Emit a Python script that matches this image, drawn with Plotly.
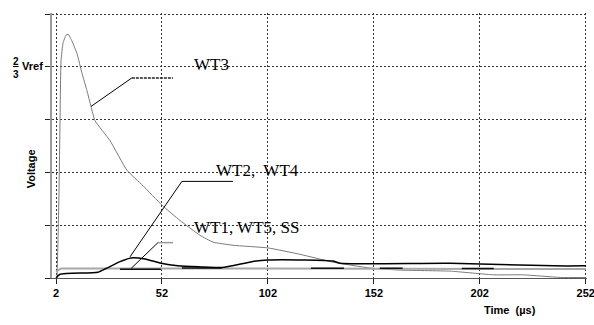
import plotly.graph_objects as go

# ---- waveform data (time in µs, voltage in grid units; 4 units = 2/3 Vref) ----
wt3_t = [2.47, 2.94, 3.42, 3.89, 4.36, 5.3, 6.7, 7.7, 9.5, 11.9, 14.3, 16.6, 18.5, 20.4,
         27.5, 35.5, 43.0, 52.0, 60.5, 69.9, 76.1, 85.5, 102, 117, 132.7, 150, 164, 188,
         208.6, 222.8, 240, 252]
wt3_v = [0.0, 0.72, 1.66, 2.98, 4.11, 4.45, 4.60, 4.62, 4.49, 4.25, 3.87, 3.55, 3.25, 2.98,
         2.60, 2.04, 1.75, 1.38, 1.09, 0.81, 0.68, 0.62, 0.57, 0.45, 0.30, 0.19, 0.15, 0.13,
         0.06, 0.06, 0.01, 0.01]

wt24_t = [2, 3.9, 21.8, 25.6, 32.2, 37.4, 44.0, 51.5, 59.5, 70, 80.3, 94.5, 102, 119.5,
          132.7, 136, 188, 237, 252]
wt24_v = [0.0, 0.07, 0.11, 0.18, 0.31, 0.38, 0.36, 0.28, 0.23, 0.21, 0.20, 0.31, 0.34, 0.34,
          0.32, 0.28, 0.28, 0.23, 0.23]

wt15_t = [2, 4.4, 100, 200, 252]
wt15_v = [0.12, 0.18, 0.18, 0.175, 0.17]

ss_t = [32.2, 51.5, None, 61.4, 80.3, None, 122.3, 137.9, None, 154.8, 165.6, None, 193.5, 208.6]
ss_v = [0.165, 0.165, None, 0.19, 0.19, None, 0.185, 0.185, None, 0.185, 0.185, None, 0.18, 0.18]

x_ticks = [2, 52, 102, 152, 202, 252]
y_ticks = [0, 1, 2, 3, 4, 5]

SANS = "Liberation Sans, Arial, sans-serif"
SERIF = "Liberation Serif, Times New Roman, serif"

fig = go.Figure()
fig.add_trace(go.Scatter(x=wt3_t, y=wt3_v, mode="lines",
                         line=dict(color="#7a7a7a", width=1, shape="spline", smoothing=0.4)))
fig.add_trace(go.Scatter(x=wt15_t, y=wt15_v, mode="lines",
                         line=dict(color="#a8a8a8", width=2)))
fig.add_trace(go.Scatter(x=ss_t, y=ss_v, mode="lines", connectgaps=False,
                         line=dict(color="#111111", width=1.5)))
fig.add_trace(go.Scatter(x=wt24_t, y=wt24_v, mode="lines",
                         line=dict(color="#000000", width=1.5, shape="spline", smoothing=0.6)))

# leader lines from curve labels
def leader(pts, color, width=1):
    path = "M " + " L ".join(f"{x},{y}" for x, y in pts)
    return dict(type="path", path=path, xref="x", yref="y",
                line=dict(color=color, width=width))

shapes = [
    leader([(18.5, 3.25), (37.8, 3.79)], "#000000"),
    dict(type="line", xref="x", yref="y", x0=37.8, y0=3.79, x1=57.2, y1=3.79,
         line=dict(color="#222222", width=1.5, dash="3px,1px")),
    leader([(36.9, 0.40), (61.4, 1.83), (85.5, 1.83)], "#000000"),
    leader([(37.4, 0.18), (50.1, 0.67)], "#000000"),
    dict(type="line", xref="x", yref="y", x0=50.1, y0=0.67, x1=57.2, y1=0.67,
         line=dict(color="#999999", width=1.5)),
]

annotations = [
    dict(x=66.0, y=4.04, text="WT3", xanchor="left", yanchor="middle", showarrow=False,
         font=dict(family=SERIF, size=17, color="#000")),
    dict(x=76.5, y=2.04, text="WT2,  WT4", xanchor="left", yanchor="middle", showarrow=False,
         font=dict(family=SERIF, size=17, color="#000")),
    dict(x=66.0, y=0.96, text="WT1, WT5, SS", xanchor="left", yanchor="middle", showarrow=False,
         font=dict(family=SERIF, size=17, color="#000")),
    # 2/3 Vref tick label
    dict(xref="paper", yref="y", x=0, y=4, xshift=-41, yshift=-1, text="<u>2</u><br>3",
         showarrow=False, font=dict(family=SANS, size=10, color="#000", weight="bold")),
    dict(xref="paper", yref="y", x=0, y=4, xshift=-32, yshift=1, xanchor="left", text="Vref",
         showarrow=False, font=dict(family=SANS, size=11, color="#000", weight="bold")),
    # axis titles
    dict(xref="paper", yref="paper", x=0, y=0.41, xshift=-29, text="Voltage", textangle=-90,
         showarrow=False, font=dict(family=SANS, size=11, color="#000", weight="bold")),
    dict(xref="paper", yref="paper", x=0.909, y=0, yshift=-40, text="Time  (µs)",
         showarrow=False, font=dict(family=SANS, size=11, color="#000", weight="bold")),
]

fig.update_layout(
    width=594, height=325,
    margin=dict(l=52, r=7, t=13, b=47),
    paper_bgcolor="white", plot_bgcolor="white",
    showlegend=False,
    shapes=shapes,
    annotations=annotations,
    xaxis=dict(range=[0.1, 252.6], tickvals=x_ticks, ticktext=[str(v) for v in x_ticks],
               ticklabeloverflow="allow", automargin=False,
               showgrid=True, gridcolor="#333333", griddash="2px,2px", gridwidth=1,
               zeroline=False, showline=True, linecolor="#555555", linewidth=1,
               ticks="outside", ticklen=5, tickcolor="#222222",
               tickfont=dict(family=SANS, size=11, color="#000", weight="bold")),
    yaxis=dict(range=[0, 5.02], tickvals=y_ticks, ticktext=["" for _ in y_ticks],
               automargin=False,
               showgrid=True, gridcolor="#333333", griddash="2px,2px", gridwidth=1,
               zeroline=False, showline=True, linecolor="#9a9a9a", linewidth=2,
               ticks="outside", ticklen=5, tickcolor="#222222"),
)

fig.write_html("out.html")
